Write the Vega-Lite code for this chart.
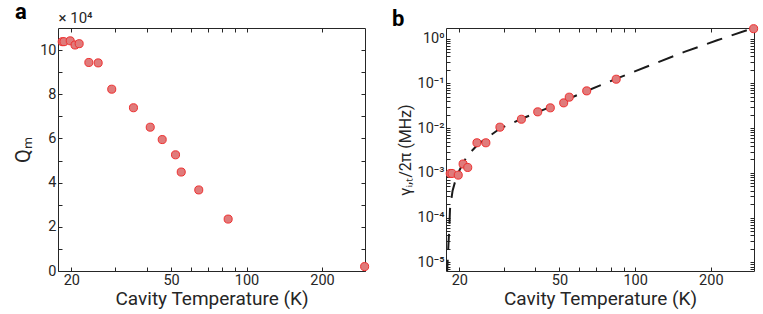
{
  "$schema": "https://vega.github.io/schema/vega-lite/v6.json",
  "background": "white",
  "padding": {"left": 13, "right": 5, "top": 0, "bottom": 5},
  "spacing": 21,
  "config": {
    "font": "Roboto",
    "view": {"stroke": null},
    "axis": {
      "domainColor": "#262626", "domainWidth": 1,
      "tickColor": "#262626", "tickSize": -4, "tickWidth": 1,
      "labelColor": "#262626", "labelFontSize": 14.5, "labelPadding": 6,
      "titleColor": "#262626", "titleFontSize": 19, "titleFontWeight": "normal",
      "grid": false, "labelFlush": false, "labelOverlap": false
    }
  },
  "hconcat": [
    {
      "width": 307, "height": 243,
      "title": {"text": "a", "anchor": "start", "frame": "group", "dx": -43, "offset": -13, "fontSize": 22, "fontWeight": "bold", "color": "#000000"},
      "data": {"values": [
        {"T": 18.4, "Q": 103800}, {"T": 18.7, "Q": 103800}, {"T": 19.8, "Q": 104200},
        {"T": 20.7, "Q": 102300}, {"T": 21.5, "Q": 102900}, {"T": 23.5, "Q": 94400},
        {"T": 25.6, "Q": 94200}, {"T": 29.0, "Q": 82300}, {"T": 35.4, "Q": 73900},
        {"T": 41.3, "Q": 65100}, {"T": 46.1, "Q": 59500}, {"T": 52.1, "Q": 52600},
        {"T": 54.9, "Q": 44800}, {"T": 64.5, "Q": 36700}, {"T": 84.5, "Q": 23500},
        {"T": 296, "Q": 2000}
      ]},
      "layer": [
        {
          "mark": {"type": "point", "opacity": 0},
          "encoding": {
            "x": {"field": "T", "type": "quantitative",
              "scale": {"type": "log", "domain": [17.7, 297], "nice": false},
              "axis": {"orient": "top", "labels": false, "values": [20, 30, 40, 50, 60, 70, 80, 90, 100, 200],
                "title": "× 10⁴", "titleAnchor": "start", "titleAlign": "left", "titleFontSize": 15, "titlePadding": 2}},
            "y": {"field": "Q", "type": "quantitative",
              "scale": {"domain": [0, 110000], "nice": false, "zero": true},
              "axis": {"orient": "right", "labels": false, "title": null,
                "values": [0, 10000, 20000, 30000, 40000, 50000, 60000, 70000, 80000, 90000, 100000]}}
          }
        },
        {
          "mark": {"type": "circle", "size": 65, "fill": "#e07b7b", "fillOpacity": 1, "stroke": "#ee3030", "strokeWidth": 1, "opacity": 1},
          "encoding": {
            "x": {"field": "T", "type": "quantitative",
              "scale": {"type": "log", "domain": [17.7, 297], "nice": false},
              "axis": {"orient": "bottom", "values": [20, 30, 40, 50, 60, 70, 80, 90, 100, 200],
                "labelExpr": "(datum.value == 20 || datum.value == 50 || datum.value == 100 || datum.value == 200) ? datum.label : ''",
                "title": "Cavity Temperature (K)", "titlePadding": 3}},
            "y": {"field": "Q", "type": "quantitative",
              "scale": {"domain": [0, 110000], "nice": false, "zero": true},
              "axis": {"orient": "left",
                "values": [0, 10000, 20000, 30000, 40000, 50000, 60000, 70000, 80000, 90000, 100000],
                "labelExpr": "datum.value % 20000 == 0 ? format(datum.value / 10000, 'd') : ''",
                "title": "Qₘ", "titleFontSize": 20, "titlePadding": 6}}
          }
        }
      ],
      "resolve": {"axis": {"x": "independent", "y": "independent"}}
    },
    {
      "width": 308, "height": 243,
      "title": {"text": "b", "anchor": "start", "frame": "group", "dx": -54, "offset": -8, "fontSize": 22, "fontWeight": "bold", "color": "#000000"},
      "layer": [
        {
          "data": {"values": [
            {"T": 17.85, "g": 0.000005}, {"T": 17.96, "g": 0.00001}, {"T": 18.1, "g": 0.000025},
            {"T": 18.25, "g": 0.00006}, {"T": 18.36, "g": 0.000155}, {"T": 18.8, "g": 0.0004},
            {"T": 19.5, "g": 0.00084}, {"T": 20.5, "g": 0.0015}, {"T": 21.6, "g": 0.0025},
            {"T": 23.8, "g": 0.0044}, {"T": 29.0, "g": 0.0098}, {"T": 35.6, "g": 0.0164},
            {"T": 46.1, "g": 0.0299}, {"T": 62.9, "g": 0.0646}, {"T": 84.4, "g": 0.128},
            {"T": 115, "g": 0.255}, {"T": 157, "g": 0.505}, {"T": 212, "g": 0.92},
            {"T": 296, "g": 1.73}
          ]},
          "mark": {"type": "line", "color": "#1a1a1a", "strokeWidth": 2, "strokeDash": [16, 10], "clip": true},
          "encoding": {
            "x": {"field": "T", "type": "quantitative",
              "scale": {"type": "log", "domain": [17.7, 297], "nice": false},
              "axis": {"orient": "top", "labels": false, "title": null, "values": [20, 30, 40, 50, 60, 70, 80, 90, 100, 200]}},
            "y": {"field": "g", "type": "quantitative",
              "scale": {"type": "log", "domain": [0.0000064, 1.73], "nice": false},
              "axis": {"orient": "right", "labels": false, "title": null,
                "values": [0.000007, 0.000008, 0.000009, 0.00001, 0.00002, 0.00003, 0.00004, 0.00005, 0.00006, 0.00007, 0.00008, 0.00009, 0.0001, 0.0002, 0.0003, 0.0004, 0.0005, 0.0006, 0.0007, 0.0008, 0.0009, 0.001, 0.002, 0.003, 0.004, 0.005, 0.006, 0.007, 0.008, 0.009, 0.01, 0.02, 0.03, 0.04, 0.05, 0.06, 0.07, 0.08, 0.09, 0.1, 0.2, 0.3, 0.4, 0.5, 0.6, 0.7, 0.8, 0.9, 1]}}
          }
        },
        {
          "data": {"values": [
            {"T": 18.4, "g": 0.00097}, {"T": 18.7, "g": 0.00097}, {"T": 19.8, "g": 0.00089},
            {"T": 20.7, "g": 0.00158}, {"T": 21.6, "g": 0.00132}, {"T": 23.5, "g": 0.0047},
            {"T": 25.5, "g": 0.0047}, {"T": 29.0, "g": 0.0105}, {"T": 35.3, "g": 0.0158},
            {"T": 41.0, "g": 0.0231}, {"T": 46.0, "g": 0.0284}, {"T": 52.0, "g": 0.0367},
            {"T": 54.7, "g": 0.0492}, {"T": 64.2, "g": 0.068}, {"T": 84.1, "g": 0.124},
            {"T": 296, "g": 1.67}
          ]},
          "mark": {"type": "circle", "size": 65, "fill": "#e07b7b", "fillOpacity": 1, "stroke": "#ee3030", "strokeWidth": 1, "opacity": 1},
          "encoding": {
            "x": {"field": "T", "type": "quantitative",
              "scale": {"type": "log", "domain": [17.7, 297], "nice": false},
              "axis": {"orient": "bottom", "values": [20, 30, 40, 50, 60, 70, 80, 90, 100, 200],
                "labelExpr": "(datum.value == 20 || datum.value == 50 || datum.value == 100 || datum.value == 200) ? datum.label : ''",
                "title": "Cavity Temperature (K)", "titlePadding": 3}},
            "y": {"field": "g", "type": "quantitative",
              "scale": {"type": "log", "domain": [0.0000064, 1.73], "nice": false},
              "axis": {"orient": "left",
                "values": [0.000007, 0.000008, 0.000009, 0.00001, 0.00002, 0.00003, 0.00004, 0.00005, 0.00006, 0.00007, 0.00008, 0.00009, 0.0001, 0.0002, 0.0003, 0.0004, 0.0005, 0.0006, 0.0007, 0.0008, 0.0009, 0.001, 0.002, 0.003, 0.004, 0.005, 0.006, 0.007, 0.008, 0.009, 0.01, 0.02, 0.03, 0.04, 0.05, 0.06, 0.07, 0.08, 0.09, 0.1, 0.2, 0.3, 0.4, 0.5, 0.6, 0.7, 0.8, 0.9, 1],
                "labelExpr": "datum.value == 1 ? '10⁰' : datum.value == 0.1 ? '10⁻¹' : datum.value == 0.01 ? '10⁻²' : datum.value == 0.001 ? '10⁻³' : datum.value == 0.0001 ? '10⁻⁴' : datum.value == 0.00001 ? '10⁻⁵' : ''",
                "title": "γᵢ,ₜ/2π (MHz)", "titleFontSize": 16, "titlePadding": 4}}
          }
        }
      ],
      "resolve": {"axis": {"x": "independent", "y": "independent"}}
    }
  ]
}
